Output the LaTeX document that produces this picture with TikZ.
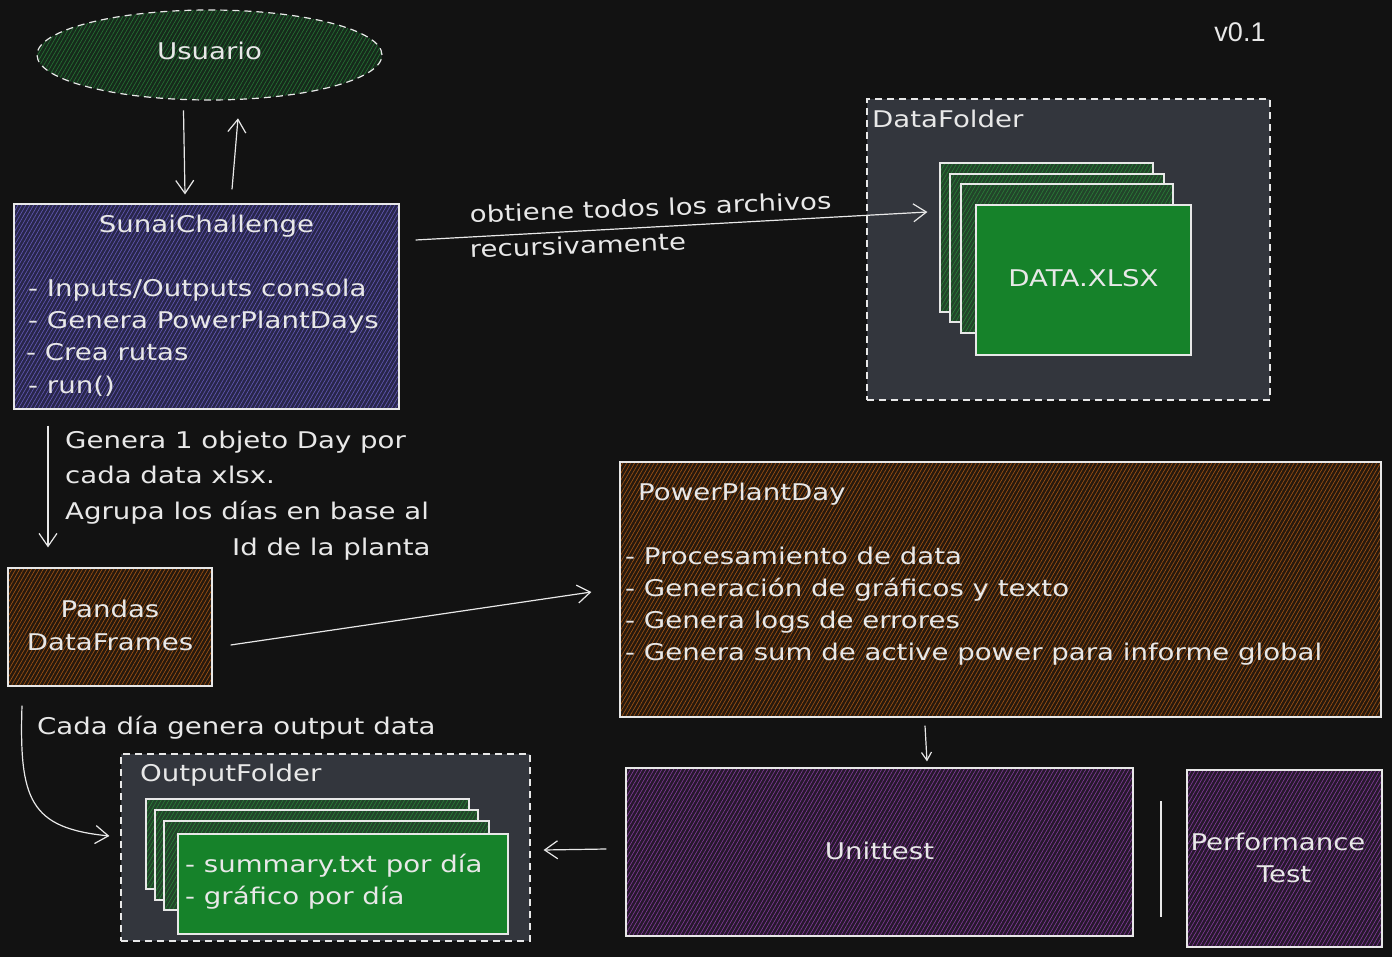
\documentclass[tikz,border=0pt]{standalone}
\usepackage{fontspec}
\setmainfont{DejaVu Sans}[FakeStretch=1.2]
\newfontfamily\vfont{Liberation Sans}
\usetikzlibrary{arrows.meta,patterns.meta,shapes.geometric}
\definecolor{bg}{RGB}{18,18,18}
\definecolor{fg}{RGB}{232,232,232}
\definecolor{folder}{RGB}{51,54,61}
\definecolor{xlsgreen}{RGB}{22,130,42}
\definecolor{grnbase}{RGB}{22,42,27}
\definecolor{grnline}{RGB}{38,112,52}
\definecolor{grnbase2}{RGB}{34,68,42}
\definecolor{grnline2}{RGB}{42,125,56}
\definecolor{blubase}{RGB}{40,38,74}
\definecolor{bluline}{RGB}{98,88,178}
\definecolor{orgbase}{RGB}{38,25,14}
\definecolor{orgline}{RGB}{160,82,18}
\definecolor{purbase}{RGB}{38,24,44}
\definecolor{purline}{RGB}{128,60,150}
\begin{document}
\begin{tikzpicture}[x=1pt,y=-1pt,
  every node/.style={text=fg,font=\fontsize{23}{32}\selectfont},
  base/.style={draw=fg,line width=1.2pt,inner sep=0pt},
  hatchbox/.style 2 args={base,preaction={fill=#1},
     pattern={Lines[angle=60,distance=3.4pt,line width=0.65pt]},pattern color=#2},
  folderbox/.style={draw=fg,line width=1.2pt,fill=folder,dash pattern=on 7pt off 5pt,inner sep=0pt},
  sheet/.style={hatchbox={grnbase2}{grnline2}},
  frontsheet/.style={base,fill=xlsgreen},
  arr/.style={draw=fg,line width=1.2pt,-{Straight Barb[length=13pt,width=18pt,line width=1.2pt]}},
  lbl/.style={anchor=base west,inner sep=0pt},
  clbl/.style={anchor=base,inner sep=0pt}]
\fill[bg] (0,0) rectangle (1392,957);
\useasboundingbox (0,0) rectangle (1392,957);

% version
\node[clbl,font=\vfont\fontsize{27}{30}\selectfont] (ver) at (1240,42) {v0.1};

% Usuario
\node[ellipse,hatchbox={grnbase}{grnline},dash pattern=on 7pt off 5pt,
  minimum width=345pt,minimum height=90pt] (usuario) at (209.5,55) {};
\node[clbl] (usuariot) at (209.5,60) {Usuario};

% SunaiChallenge
\node[hatchbox={blubase}{bluline},minimum width=385pt,minimum height=205pt] (sunai) at (206.5,306.5) {};
\node[clbl] (sunait) at (206.5,233) {SunaiChallenge};
\node[lbl] (sunai1) at (28,297) {- Inputs/Outputs consola};
\node[lbl] (sunai2) at (28,329) {- Genera PowerPlantDays};
\node[lbl] (sunai3) at (26,361) {- Crea rutas};
\node[lbl] (sunai4) at (28,393) {- run()};

% DataFolder
\node[folderbox,minimum width=403pt,minimum height=301pt] (datafolder) at (1068.5,249.5) {};
\node[lbl] (datafoldert) at (872,128) {DataFolder};
\node[sheet,minimum width=213pt,minimum height=149pt] (ds1) at (1046.5,237.5) {};
\node[sheet,minimum width=214pt,minimum height=148pt] (ds2) at (1057,248) {};
\node[sheet,minimum width=212pt,minimum height=149pt] (ds3) at (1067,258.5) {};
\node[frontsheet,minimum width=215pt,minimum height=150pt] (ds4) at (1083.5,280) {};
\node[clbl] (ds4t) at (1083.5,287) {DATA.XLSX};

% arrows Usuario <-> Sunai
\draw[arr] ([xshift=-26pt,yshift=-10pt]usuario.south) -- ([xshift=-21.5pt,yshift=9pt]sunai.north);
\draw[arr] ([xshift=25.5pt,yshift=14pt]sunai.north) -- ([xshift=28.5pt,yshift=-18pt]usuario.south);

% Sunai -> DataFolder
\draw[arr] ([xshift=16pt,yshift=66.5pt]sunai.east) -- ([xshift=-12pt,yshift=25.5pt]ds1.west);
\node[lbl,rotate=2.2] (obt1) at (470,223) {obtiene todos los archivos};
\node[lbl,rotate=2.2] (obt2) at (470,258) {recursivamente};

% Pandas
\node[hatchbox={orgbase}{orgline},minimum width=204pt,minimum height=118pt] (pandas) at (110,627) {};
\node[clbl] (pandas1) at (110,617) {Pandas};
\node[clbl] (pandas2) at (110,650) {DataFrames};

% Sunai -> Pandas
\draw[arr] ([xshift=-158.5pt,yshift=-16pt]sunai.south) -- ([xshift=-62pt,yshift=20pt]pandas.north);
\node[lbl] (gen1) at (65,448) {Genera 1 objeto Day por};
\node[lbl] (gen2) at (65,483) {cada data xlsx.};
\node[lbl] (gen3) at (65,519) {Agrupa los días en base al};
\node[lbl] (gen4) at (232,555) {Id de la planta};

% PowerPlantDay
\node[hatchbox={orgbase}{orgline},minimum width=761pt,minimum height=255pt] (ppd) at (1000.5,589.5) {};
\node[lbl] (ppdt) at (638,500) {PowerPlantDay};
\node[lbl] (ppd1) at (625,564) {- Procesamiento de data};
\node[lbl] (ppd2) at (625,596) {- Generación de gráficos y texto};
\node[lbl] (ppd3) at (625,628) {- Genera logs de errores};
\node[lbl] (ppd4) at (625,660) {- Genera sum de active power para informe global};

% Pandas -> PPD
\draw[arr] ([xshift=18pt,yshift=-18pt]pandas.east) -- ([xshift=-28pt,yshift=-2.5pt]ppd.west);

% Unittest & Performance
\node[hatchbox={purbase}{purline},minimum width=507pt,minimum height=168pt] (unit) at (879.5,852) {};
\node[clbl] (unitt) at (879.5,859) {Unittest};
\node[hatchbox={purbase}{purline},minimum width=195pt,minimum height=177pt] (perf) at (1284.5,858.5) {};
\node[clbl] (perf1) at (1278,850) {Performance};
\node[clbl] (perf2) at (1284,882) {Test};
\draw[fg,line width=1.2pt] (1161,801) -- (1161,917);

% PPD -> Unittest
\draw[arr,-{Straight Barb[length=8pt,width=10pt,line width=1.2pt]}] ([xshift=-75.5pt,yshift=-8pt]ppd.south) -- ([xshift=47.5pt,yshift=6pt]unit.north);

% OutputFolder
\node[folderbox,minimum width=409pt,minimum height=187pt] (outfolder) at (325.5,847.5) {};
\node[lbl] (outfoldert) at (140,781) {OutputFolder};
\node[sheet,minimum width=323pt,minimum height=90pt] (os1) at (307.5,844) {};
\node[sheet,minimum width=323pt,minimum height=90pt] (os2) at (316.5,855) {};
\node[sheet,minimum width=325pt,minimum height=89pt] (os3) at (326.5,865.5) {};
\node[frontsheet,minimum width=330pt,minimum height=100pt] (os4) at (343,884) {};
\node[lbl] (os4a) at (185,872) {- summary.txt por día};
\node[lbl] (os4b) at (185,904) {- gráfico por día};

% Unittest -> OutputFolder
\draw[arr] ([xshift=-19pt,yshift=3pt]unit.west) -- ([xshift=13pt,yshift=-2.5pt]outfolder.east);

% Pandas -> OutputFolder (curved)
\draw[arr] ([xshift=-88pt,yshift=-19pt]pandas.south) .. controls (19,800) and (30,828) .. ([xshift=-11pt,yshift=11.5pt]outfolder.west);
\node[lbl] (cada) at (37,734) {Cada día genera output data};
\end{tikzpicture}
\end{document}
